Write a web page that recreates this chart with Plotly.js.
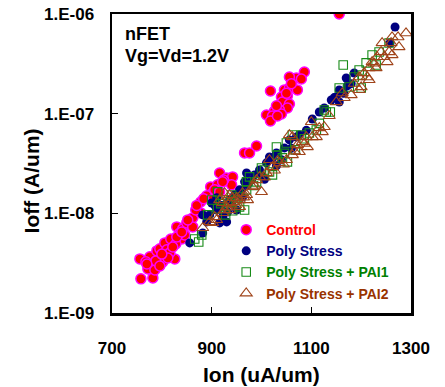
<!DOCTYPE html>
<html>
<head>
<meta charset="utf-8">
<script src="https://cdn.plot.ly/plotly-3.0.1.min.js"></script>
<style>html,body{margin:0;padding:0;background:#fff;}#chart{width:445px;height:387px;}</style>
</head>
<body>
<div id="chart"></div>
<script>
// Control
var ctrlIon = [758,782,756,772,786,776,790,796,804,802,788,806,818,810,826,816,830,842,840,850,862,846,862,828,836,822,878,878,898,902,916,930,942,940,912,890,868,966,976,990,924,922,1086,1070,1056,1080,1018,1046,1056,1072,1040,1052,1042,1056,1052,1036,1026,1010,1022,1040,1018,1032,1156,900,906,916,852,768,796,812,800,830,870,884,770,840,1030,1060,1050];
var ctrlIoff = [2.20e-9,2.25e-9,3.49e-9,2.77e-9,2.70e-9,3.66e-9,4.20e-9,4.40e-9,3.66e-9,3.26e-9,3.33e-9,5.05e-9,5.53e-9,4.30e-9,3.49e-9,4.01e-9,7.31e-9,6.98e-9,5.53e-9,8.02e-9,9.0e-9,6.07e-9,7.31e-9,4.93e-9,6.35e-9,4.60e-9,1.30e-8,1.01e-8,1.84e-8,1.60e-8,2.54e-8,2.26e-8,2.32e-8,1.93e-8,1.93e-8,1.50e-8,1.08e-8,4.04e-8,4.04e-8,4.74e-8,2.16e-8,2.07e-8,2.62e-7,2.28e-7,2.33e-7,2.23e-7,1.69e-7,1.73e-7,1.81e-7,1.73e-7,1.47e-7,1.51e-7,1.31e-7,1.25e-7,1.14e-7,1.09e-7,1.06e-7,9.70e-8,9.48e-8,9.93e-8,8.45e-8,9.48e-8,1.0e-6,1.36e-8,1.72e-8,1.64e-8,8.59e-9,3.26e-9,2.96e-9,3.57e-9,3.9e-9,5.8e-9,1.2e-8,1.4e-8,3.1e-9,6.5e-9,1.2e-7,2.0e-7,1.6e-7];
// Poly Stress
var polyIon = [856,882,890,896,900,910,916,930,950,970,972,966,956,962,1010,1016,1030,1040,1022,1056,1070,1076,1102,1140,1150,1156,1170,1172,1156,1186,1258,1268,882,910,922,936,946,986,996,1046,1116,1126,906,980,932,920,940,960,1000,1030,1060,1090,1180,1165,1146,1162,1006];
var polyIoff = [5.05e-9,6.35e-9,8.20e-9,9.64e-9,1.27e-8,1.43e-8,8.02e-9,8.20e-9,1.08e-8,2.54e-8,1.93e-8,2.07e-8,1.72e-8,1.46e-8,3.21e-8,3.68e-8,4.04e-8,3.44e-8,3.60e-8,5.45e-8,5.83e-8,6.11e-8,8.85e-8,1.37e-7,1.47e-7,1.31e-7,2.28e-7,1.90e-7,1.73e-7,2.56e-7,5.12e-7,7.41e-7,9.64e-9,1.08e-8,9.20e-9,1.36e-8,1.53e-8,2.43e-8,2.72e-8,4.53e-8,1.04e-7,1.14e-7,1.21e-8,2.16e-8,1.03e-8,1.2e-8,1.25e-8,1.7e-8,2.4e-8,3.0e-8,4.5e-8,6.8e-8,2.0e-7,1.6e-7,1.45e-7,1.62e-7,2.2e-8];
// Poly Stress + PAI1
var pai1Ion = [866,874,880,892,900,912,912,922,932,940,942,952,956,966,970,976,970,990,1000,1022,1030,1032,1042,1050,1052,1062,1080,1096,1110,1126,1130,1138,1156,1164,1176,1186,1200,1202,1210,1222,1236,1230,1256,1196,928,1006,1068,918,948,984,1016,1046,1086,1116];
var pai1Ioff = [5.53e-9,5.16e-9,6.07e-9,9.64e-9,1.36e-8,1.64e-8,1.11e-8,1.36e-8,1.30e-8,1.53e-8,1.06e-8,1.46e-8,1.16e-8,1.08e-8,1.72e-8,2.32e-8,2.07e-8,2.07e-8,2.85e-8,2.43e-8,4.63e-8,3.85e-8,3.60e-8,5.08e-8,3.28e-8,6.11e-8,6.11e-8,6.40e-8,6.86e-8,1.09e-7,1.04e-7,1.04e-7,1.81e-7,3.08e-7,1.85e-7,2.33e-7,1.81e-7,2.44e-7,3.23e-7,3.88e-7,4.16e-7,3.08e-7,5.12e-7,2.74e-7,9.64e-9,2.72e-8,4.33e-8,1.25e-8,1.35e-8,1.9e-8,2.6e-8,4.0e-8,5.6e-8,8.0e-8];
// Poly Stress + PAI2
var pai2Ion = [882,896,902,906,910,922,926,922,936,936,936,926,916,942,950,956,956,962,970,972,982,990,996,1000,1010,1016,1022,1036,1050,1056,1062,1062,1072,1076,1082,1090,1092,1100,1102,1110,1116,1122,1126,1150,1162,1166,1180,1196,1200,1196,1206,1212,1216,1216,1230,1222,1232,1246,1252,1240,1256,1262,1242,1260,1276,1262,1274,1290,1032,948,930,944,964,986,1006,1026,1044,1066,1086,1136,1186,1226];
var pai2Ioff = [7.15e-9,8.20e-9,8.02e-9,9.20e-9,8.59e-9,1.01e-8,1.08e-8,1.27e-8,1.08e-8,1.27e-8,1.53e-8,1.60e-8,1.36e-8,1.43e-8,1.43e-8,1.36e-8,1.16e-8,1.60e-8,1.53e-8,1.36e-8,1.84e-8,2.16e-8,2.32e-8,1.64e-8,2.54e-8,3.44e-8,2.92e-8,3.21e-8,3.44e-8,6.11e-8,5.83e-8,3.85e-8,4.85e-8,4.13e-8,5.20e-8,5.83e-8,4.63e-8,8.26e-8,5.83e-8,5.83e-8,7.19e-8,6.55e-8,7.36e-8,1.31e-7,1.61e-7,1.44e-7,1.54e-7,1.73e-7,1.85e-7,2.33e-7,2.56e-7,2.33e-7,2.18e-7,2.87e-7,2.87e-7,3.30e-7,3.71e-7,3.71e-7,3.30e-7,4.16e-7,4.16e-7,3.88e-7,5.12e-7,5.12e-7,4.67e-7,5.87e-7,5.87e-7,6.44e-7,3.36e-8,1.21e-8,1.15e-8,1.3e-8,1.45e-8,1.9e-8,2.3e-8,2.7e-8,3.1e-8,4.2e-8,5.0e-8,9.5e-8,2.0e-7,3.2e-7];

var seriesNames = ['Control','Poly Stress','Poly Stress + PAI1','Poly Stress + PAI2'];
var xTickVals = [700,900,1100,1300];
var xTickText = ['700','900','1100','1300'];
var yTickVals = [1e-9,1e-8,1e-7,1e-6];
var yTickText = ['1.E-09','1.E-08','1.E-07','1.E-06'];

var FONT = 'Arial, "Liberation Sans", sans-serif';
function nm(t,c){return '<span style="color:'+c+'">'+t+'</span>';}

var traces = [
  {x: ctrlIon, y: ctrlIoff, type:'scatter', mode:'markers', name: nm(seriesNames[0],'#ff0000'),
   marker:{symbol:'circle', size:10, color:'#ff0000', line:{color:'#ff00ff', width:1.5}}},
  {x: polyIon, y: polyIoff, type:'scatter', mode:'markers', name: nm(seriesNames[1],'#000080'),
   marker:{symbol:'circle', size:9, color:'#000080', line:{width:0}}},
  {x: pai1Ion, y: pai1Ioff, type:'scatter', mode:'markers', name: nm(seriesNames[2],'#008000'),
   marker:{symbol:'square-open', size:8.5, color:'#178a17', line:{width:1.1}}},
  {x: pai2Ion, y: pai2Ioff, type:'scatter', mode:'markers', name: nm(seriesNames[3],'#993300'),
   marker:{symbol:'triangle-up-open', size:10.5, color:'#a0441a', line:{width:1.1}}}
];

var layout = {
  width:445, height:387,
  margin:{l:112, r:34, t:14, b:74, pad:0},
  paper_bgcolor:'#ffffff', plot_bgcolor:'#ffffff',
  font:{family:FONT, color:'#000', size:14, weight:'bold'},
  showlegend:true,
  legend:{x:0.382, y:0.331, xanchor:'left', yanchor:'top', bgcolor:'rgba(0,0,0,0)',
          font:{family:FONT, size:14, weight:'bold'}, tracegroupgap:0, itemwidth:30},
  xaxis:{type:'linear', range:[700,1300], tickmode:'array', tickvals:xTickVals, ticktext:xTickText,
         ticks:'inside', ticklen:6, tickwidth:1, tickcolor:'#000', showgrid:false, zeroline:false,
         showline:true, linecolor:'#000', linewidth:2.5, mirror:true,
         tickfont:{family:FONT, size:17, weight:'bold', color:'#000'}, ticklabelstandoff:18},
  yaxis:{type:'log', range:[-9,-6], tickmode:'array', tickvals:yTickVals, ticktext:yTickText,
         ticks:'inside', ticklen:6, tickwidth:1, tickcolor:'#000', showgrid:false, zeroline:false,
         showline:true, linecolor:'#000', linewidth:2.5, mirror:true,
         tickfont:{family:FONT, size:17, weight:'bold', color:'#000'}, ticklabelstandoff:12},
  annotations:[
    {text:'nFET', xref:'paper', yref:'paper', x:0.037, y:0.933, xanchor:'left', yanchor:'middle', showarrow:false,
     font:{family:FONT, size:18, weight:'bold', color:'#000'}},
    {text:'Vg=Vd=1.2V', xref:'paper', yref:'paper', x:0.037, y:0.860, xanchor:'left', yanchor:'middle', showarrow:false,
     font:{family:FONT, size:18, weight:'bold', color:'#000'}},
    {text:'Ion (uA/um)', xref:'paper', yref:'paper', x:0.5, y:-0.207, xanchor:'center', yanchor:'middle', showarrow:false,
     font:{family:FONT, size:21, weight:'bold', color:'#000'}},
    {text:'Ioff (A/um)', xref:'paper', yref:'paper', x:-0.268, y:0.443, xanchor:'center', yanchor:'middle', showarrow:false,
     textangle:-90, font:{family:FONT, size:21, weight:'bold', color:'#000'}}
  ]
};

Plotly.newPlot('chart', traces, layout, {displayModeBar:false, staticPlot:true});
</script>
</body>
</html>
